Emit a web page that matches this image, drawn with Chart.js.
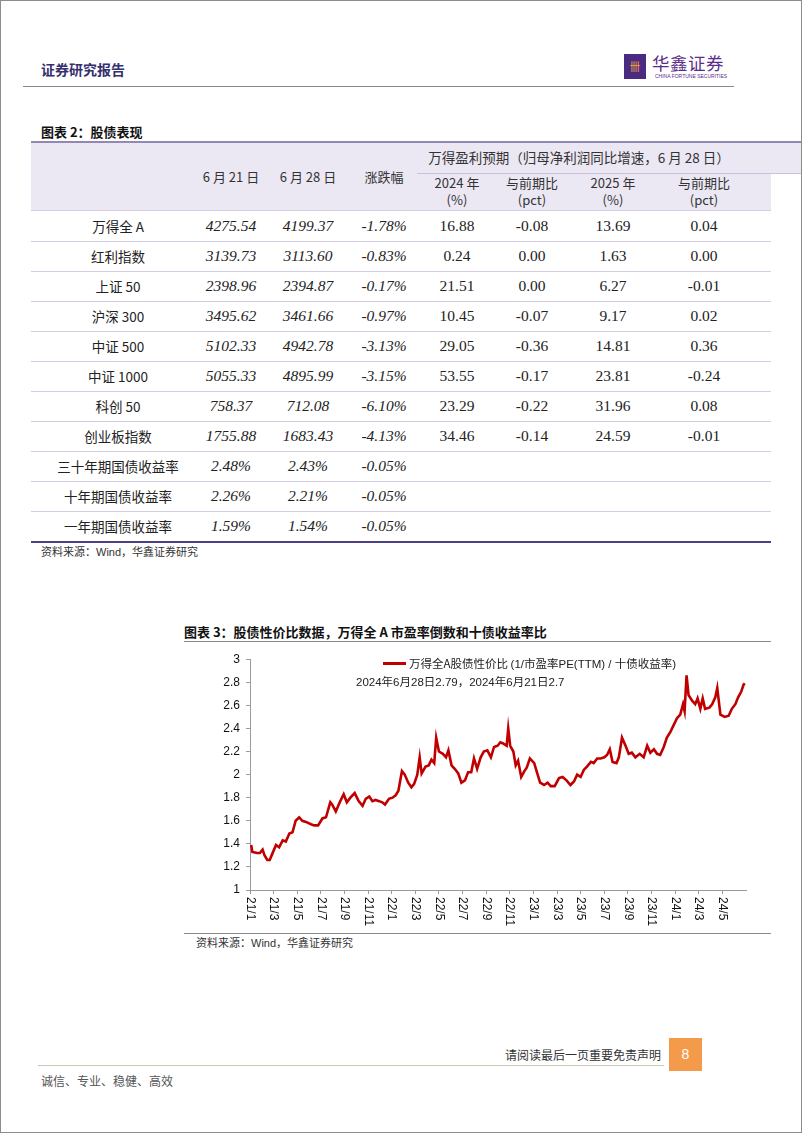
<!DOCTYPE html>
<html>
<head>
<meta charset="utf-8">
<script src="https://cdn.jsdelivr.net/npm/chart.js@4.4.1/dist/chart.umd.min.js"></script>
<style>
  body { margin: 0; background: #fff; }
  #page { position: relative; width: 802px; height: 1133px; box-sizing: border-box; border: 1px solid #8c8c8c; overflow: hidden; font-family: "Noto Sans CJK SC", sans-serif; color: #222; }
  .abs { position: absolute; white-space: nowrap; }
  .line { position: absolute; }
  .cell { position: absolute; top: 0; height: 30px; line-height: 30px; transform: translateX(-50%); white-space: nowrap; }
  .num { font-family: "Liberation Serif", serif; font-size: 15.5px; color: #222; }
  .it { font-style: italic; }
  .name { font-size: 13.5px; color: #222; }
  .hd { font-size: 13px; color: #333; text-align: center; line-height: 17px; transform: translateX(-50%); }
  #chartBox { position: absolute; left: 185px; top: 645px; width: 580px; height: 287px; }
</style>
</head>
<body>
<div id="page">
  <!-- header -->
  <div class="abs" style="left:40px;top:58px;font-size:14px;font-weight:bold;color:#35306e;">证券研究报告</div>
  <div class="abs" style="left:623px;top:53px;width:22px;height:25px;background:#4b2a82;color:#f2a23a;font-size:11px;line-height:25px;text-align:center;">卌</div>
  <div class="abs" style="left:651px;top:52px;font-size:17.5px;line-height:19px;color:#5a2d8c;letter-spacing:0.5px;">华鑫证券</div>
  <div class="abs" style="left:654px;top:72px;font-size:5px;line-height:6px;color:#5a2d8c;font-family:'Liberation Sans';">CHINA FORTUNE SECURITIES</div>
  <div class="line" style="left:22px;top:85px;width:711px;height:1px;background:#8a8a8a;"></div>

  <!-- table -->
  <div class="abs" style="left:40px;top:121px;font-size:13px;font-weight:bold;color:#111;">图表 2：股债表现</div>
  <div class="line" style="left:30px;top:141px;width:740px;height:69px;background:#ebe7f3;"></div>
  <div class="line" style="left:770px;top:141px;width:31px;height:31px;background:#ebe7f3;"></div>
  <div class="line" style="left:30px;top:140px;width:771px;height:2px;background:#9189b3;"></div>
  <div class="line" style="left:416px;top:172px;width:385px;height:1px;background:#c9c1dc;"></div>
  <div id="tableHead"></div>
  <div id="tableBody"></div>
  <div class="line" style="left:30px;top:540px;width:740px;height:2px;background:#4f3f86;"></div>
  <div class="abs" style="left:40px;top:542px;font-size:11px;color:#333;">资料来源：<span style="font-family:'Liberation Sans'">Wind</span>，华鑫证券研究</div>

  <!-- chart -->
  <div class="abs" style="left:183px;top:621px;font-size:13px;font-weight:bold;color:#111;">图表 3：股债性价比数据，万得全 A 市盈率倒数和十债收益率比</div>
  <div class="line" style="left:183px;top:640px;width:587px;height:1px;background:#8a8a8a;"></div>
  <div id="chartBox"><canvas id="ratioChart"></canvas></div>
  <div class="line" style="left:382px;top:661px;width:23px;height:3px;background:#C00000;"></div>
  <div class="abs" style="left:408px;top:654px;font-size:11.5px;line-height:16px;color:#222;">万得全A股债性价比 <span style="font-family:'Liberation Sans'">(1/</span>市盈率<span style="font-family:'Liberation Sans'">PE(TTM) / </span>十债收益率<span style="font-family:'Liberation Sans'">)</span></div>
  <div class="abs" style="left:355px;top:672px;font-size:11.5px;line-height:16px;color:#222;"><span style="font-family:'Liberation Sans'">2024</span>年<span style="font-family:'Liberation Sans'">6</span>月<span style="font-family:'Liberation Sans'">28</span>日<span style="font-family:'Liberation Sans'">2.79</span>，<span style="font-family:'Liberation Sans'">2024</span>年<span style="font-family:'Liberation Sans'">6</span>月<span style="font-family:'Liberation Sans'">21</span>日<span style="font-family:'Liberation Sans'">2.7</span></div>
  <div class="line" style="left:183px;top:932px;width:587px;height:1px;background:#8a8a8a;"></div>
  <div class="abs" style="left:195px;top:933px;font-size:11px;color:#333;">资料来源：<span style="font-family:'Liberation Sans'">Wind</span>，华鑫证券研究</div>

  <!-- footer -->
  <div class="abs" style="left:500px;top:1045px;width:160px;text-align:right;font-size:12px;color:#333;">请阅读最后一页重要免责声明</div>
  <div class="line" style="left:37px;top:1064px;width:626px;height:1px;background:#c9c6b4;"></div>
  <div class="abs" style="left:668px;top:1037px;width:33px;height:33px;background:#f39a4b;color:#fff;font-size:14px;line-height:33px;text-align:center;font-family:'Liberation Sans';">8</div>
  <div class="abs" style="left:40px;top:1071px;font-size:12px;color:#555;">诚信、专业、稳健、高效</div>
</div>

<script>
// ---- table data ----
var tableNames = ['万得全 A', '红利指数', '上证 50', '沪深 300', '中证 500', '中证 1000', '科创 50', '创业板指数', '三十年期国债收益率', '十年期国债收益率', '一年期国债收益率'];
var close0621 = ['4275.54', '3139.73', '2398.96', '3495.62', '5102.33', '5055.33', '758.37', '1755.88', '2.48%', '2.26%', '1.59%'];
var close0628 = ['4199.37', '3113.60', '2394.87', '3461.66', '4942.78', '4895.99', '712.08', '1683.43', '2.43%', '2.21%', '1.54%'];
var changePct = ['-1.78%', '-0.83%', '-0.17%', '-0.97%', '-3.13%', '-3.15%', '-6.10%', '-4.13%', '-0.05%', '-0.05%', '-0.05%'];
var growth2024 = ['16.88', '0.24', '21.51', '10.45', '29.05', '53.55', '23.29', '34.46', '', '', ''];
var diff2024 = ['-0.08', '0.00', '0.00', '-0.07', '-0.36', '-0.17', '-0.22', '-0.14', '', '', ''];
var growth2025 = ['13.69', '1.63', '6.27', '9.17', '14.81', '23.81', '31.96', '24.59', '', '', ''];
var diff2025 = ['0.04', '0.00', '-0.01', '0.02', '0.36', '-0.24', '0.08', '-0.01', '', '', ''];

// ---- chart data ----
var dates = [
  '2021-01-04','2021-01-07','2021-01-19','2021-01-26','2021-02-03','2021-02-08','2021-02-15','2021-02-21','2021-02-26',
  '2021-03-07','2021-03-15','2021-03-24','2021-04-02','2021-04-11','2021-04-19','2021-04-27','2021-05-06','2021-05-14',
  '2021-05-23','2021-06-06','2021-06-14','2021-06-24','2021-07-05','2021-07-14','2021-07-25','2021-07-30','2021-08-09',
  '2021-08-19','2021-08-29','2021-09-07','2021-09-16','2021-09-27','2021-10-07','2021-10-17','2021-10-25','2021-11-04',
  '2021-11-12','2021-11-20','2021-11-29','2021-12-07','2021-12-14','2021-12-24',
  '2022-01-03','2022-01-11','2022-01-18','2022-01-27','2022-02-04','2022-02-13','2022-02-21','2022-02-28','2022-03-06',
  '2022-03-12','2022-03-17','2022-03-27','2022-04-05','2022-04-12','2022-04-19','2022-04-24','2022-05-01','2022-05-11',
  '2022-05-19','2022-05-25','2022-06-03','2022-06-11','2022-06-20','2022-06-28','2022-07-07','2022-07-15','2022-07-23',
  '2022-07-30','2022-08-08','2022-08-17','2022-08-25','2022-09-04','2022-09-13','2022-09-21','2022-09-30','2022-10-07',
  '2022-10-14','2022-10-23','2022-10-27','2022-11-02','2022-11-10','2022-11-16','2022-11-22','2022-11-30','2022-12-08',
  '2022-12-14','2022-12-22',
  '2023-01-03','2023-01-09','2023-01-18','2023-01-28','2023-02-07','2023-02-15','2023-02-25','2023-03-06','2023-03-15',
  '2023-03-25','2023-04-05','2023-04-14','2023-04-22','2023-05-01','2023-05-09','2023-05-17','2023-05-27','2023-06-04',
  '2023-06-13','2023-06-22','2023-07-01','2023-07-08','2023-07-15','2023-07-22','2023-08-02','2023-08-08','2023-08-16',
  '2023-08-25','2023-09-03','2023-09-11','2023-09-20','2023-10-01','2023-10-11','2023-10-20','2023-10-28','2023-11-07',
  '2023-11-15','2023-11-23','2023-12-02','2023-12-10','2023-12-19','2023-12-26',
  '2024-01-06','2024-01-14','2024-01-21','2024-01-25','2024-01-30','2024-02-05','2024-02-14','2024-02-22','2024-02-28',
  '2024-03-05','2024-03-11','2024-03-17','2024-03-28','2024-04-05','2024-04-13','2024-04-18','2024-04-26','2024-05-07',
  '2024-05-17','2024-05-25','2024-06-04','2024-06-11','2024-06-19','2024-06-25','2024-06-28'
];
var ratio = [
  1.39, 1.33, 1.32, 1.32, 1.35, 1.30, 1.26, 1.26, 1.30,
  1.39, 1.37, 1.43, 1.42, 1.49, 1.50, 1.60, 1.63, 1.60,
  1.59, 1.57, 1.56, 1.56, 1.62, 1.63, 1.76, 1.74, 1.68,
  1.76, 1.83, 1.76, 1.80, 1.84, 1.77, 1.73, 1.79, 1.81,
  1.77, 1.78, 1.77, 1.76, 1.74, 1.79,
  1.80, 1.82, 1.86, 2.03, 2.00, 1.93, 1.89, 1.92, 2.00,
  2.15, 2.01, 2.07, 2.08, 2.13, 2.10, 2.32, 2.20, 2.18,
  2.15, 2.21, 2.08, 2.05, 2.01, 1.93, 1.95, 2.02, 2.02,
  2.14, 2.05, 2.15, 2.20, 2.21, 2.15, 2.24, 2.25, 2.28,
  2.27, 2.25, 2.40, 2.25, 2.20, 2.08, 2.12, 1.98, 2.03,
  2.06, 2.14,
  2.10, 2.03, 1.93, 1.91, 1.93, 1.90, 1.90, 1.97, 1.98,
  1.95, 1.91, 1.94, 2.00, 1.98, 2.04, 2.07, 2.11, 2.10,
  2.14, 2.14, 2.15, 2.17, 2.22, 2.11, 2.10, 2.15, 2.32,
  2.25, 2.18, 2.19, 2.15, 2.18, 2.15, 2.25, 2.19, 2.22,
  2.18, 2.17, 2.24, 2.32, 2.37, 2.42,
  2.49, 2.52, 2.61, 2.55, 2.86, 2.69, 2.64, 2.61, 2.66,
  2.57, 2.66, 2.57, 2.58, 2.61, 2.67, 2.75, 2.52, 2.50,
  2.51, 2.57, 2.61, 2.67, 2.72, 2.78, 2.79
];
var xTickLabels = ['21/1','21/3','21/5','21/7','21/9','21/11','22/1','22/3','22/5','22/7','22/9','22/11','23/1','23/3','23/5','23/7','23/9','23/11','24/1','24/3','24/5'];
var yTicks = [1, 1.2, 1.4, 1.6, 1.8, 2, 2.2, 2.4, 2.6, 2.8, 3];

// ---- build table ----
var colX = [117, 230, 307, 383, 456, 531, 612, 703];

var head = document.getElementById('tableHead');
var headHtml = '';
headHtml += '<div class="abs hd" style="left:230px;top:167px;">6 月 21 日</div>';
headHtml += '<div class="abs hd" style="left:307px;top:167px;">6 月 28 日</div>';
headHtml += '<div class="abs hd" style="left:383px;top:167px;">涨跌幅</div>';
headHtml += '<div class="abs hd" style="left:578px;top:148px;font-size:13.5px;">万得盈利预期（归母净利润同比增速，6 月 28 日）</div>';
headHtml += '<div class="abs hd" style="left:456px;top:173px;">2024 年<br>(%)</div>';
headHtml += '<div class="abs hd" style="left:531px;top:173px;">与前期比<br>(pct)</div>';
headHtml += '<div class="abs hd" style="left:612px;top:173px;">2025 年<br>(%)</div>';
headHtml += '<div class="abs hd" style="left:703px;top:173px;">与前期比<br>(pct)</div>';
head.innerHTML = headHtml;

var tbody = document.getElementById('tableBody');
var bodyHtml = '';
for (var i = 0; i < tableNames.length; i++) {
  var rowTop = 210 + i * 30;
  bodyHtml += '<div class="abs" style="left:30px;top:' + rowTop + 'px;width:740px;height:30px;">';
  bodyHtml += '<div class="cell name" style="left:' + (colX[0] - 30) + 'px;">' + tableNames[i] + '</div>';
  var vals = [close0621[i], close0628[i], changePct[i], growth2024[i], diff2024[i], growth2025[i], diff2025[i]];
  for (var j = 0; j < vals.length; j++) {
    if (vals[j] === '') continue;
    var cls = j < 3 ? 'cell num it' : 'cell num';
    bodyHtml += '<div class="' + cls + '" style="left:' + (colX[j + 1] - 30) + 'px;">' + vals[j] + '</div>';
  }
  bodyHtml += '</div>';
  if (i < tableNames.length - 1) {
    bodyHtml += '<div class="line" style="left:30px;top:' + (rowTop + 30) + 'px;width:740px;height:1px;background:#d3cce3;"></div>';
  }
}
bodyHtml += '<div class="line" style="left:30px;top:209px;width:740px;height:1px;background:#d3cce3;"></div>';
tbody.innerHTML = bodyHtml;

// ---- chart ----
function monthIndex(s) {
  var p = s.split('-').map(Number);
  return (p[0] - 2021) * 12 + (p[1] - 1) + (p[2] - 1) / 30;
}
var points = dates.map(function (d, i) { return { x: monthIndex(d), y: ratio[i] }; });

// x labels drawn reading top-to-bottom like the original
var xLabelPlugin = {
  id: 'xLabelPlugin',
  afterDraw: function (chart) {
    var s = chart.scales.x;
    var ctx = chart.ctx;
    ctx.save();
    ctx.font = '12px "Liberation Sans", Arial';
    ctx.fillStyle = '#111';
    ctx.textAlign = 'left';
    ctx.textBaseline = 'middle';
    s.ticks.forEach(function (t, i) {
      var x = s.getPixelForValue(t.value);
      ctx.save();
      ctx.translate(x, s.top + 7);
      ctx.rotate(Math.PI / 2);
      ctx.fillText(xTickLabels[i], 0, 0);
      ctx.restore();
    });
    ctx.restore();
  }
};

new Chart(document.getElementById('ratioChart'), {
  type: 'line',
  data: {
    datasets: [{
      label: '万得全A股债性价比',
      data: points,
      borderColor: '#C00000',
      borderWidth: 2.6,
      pointRadius: 0,
      tension: 0,
      fill: false
    }]
  },
  options: {
    responsive: true,
    maintainAspectRatio: false,
    animation: false,
    layout: { padding: { top: 9, right: 20, left: 0, bottom: 0 } },
    plugins: { legend: { display: false }, tooltip: { enabled: false } },
    scales: {
      x: {
        type: 'linear', min: 0, max: 42,
        afterBuildTicks: function (s) { s.ticks = xTickLabels.map(function (_, i) { return { value: i * 2 }; }); },
        afterFit: function (s) { s.height = 43; },
        ticks: { display: false },
        grid: { display: true, drawOnChartArea: false, drawTicks: true, tickLength: 4, color: '#9a9a9a' },
        border: { display: true, color: '#9a9a9a' }
      },
      y: {
        min: 1, max: 3,
        afterBuildTicks: function (s) { s.ticks = yTicks.map(function (v) { return { value: v }; }); },
        afterFit: function (s) { s.width = 64; },
        ticks: {
          font: { family: '"Liberation Sans", Arial', size: 12 },
          color: '#111',
          padding: 6,
          callback: function (v) { return String(Number(Number(v).toFixed(1))); }
        },
        grid: { display: true, drawOnChartArea: false, drawTicks: true, tickLength: 4, color: '#9a9a9a' },
        border: { display: true, color: '#9a9a9a' }
      }
    }
  },
  plugins: [xLabelPlugin]
});
</script>
</body>
</html>
